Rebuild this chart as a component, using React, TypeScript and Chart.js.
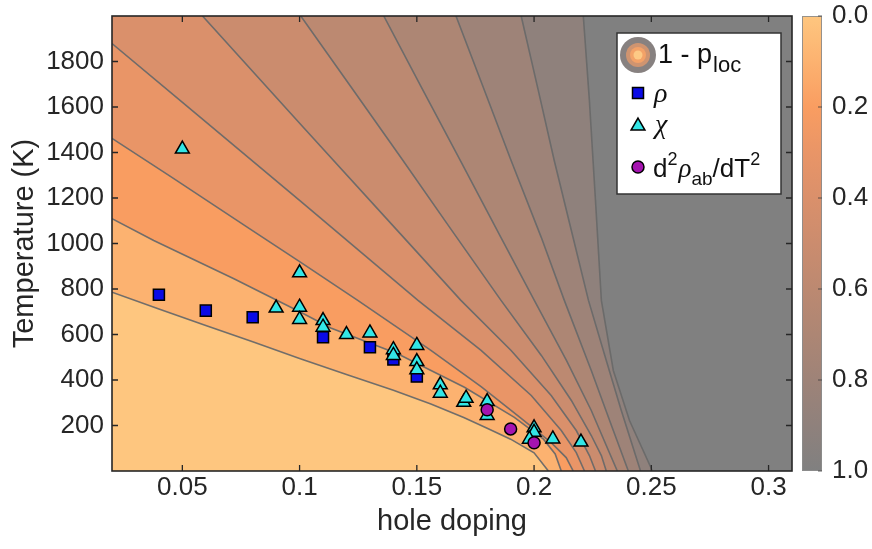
import React, { useEffect, useRef } from 'react';
import { Chart, registerables } from 'chart.js';

Chart.register(...registerables);

const FONT = '"Liberation Sans", Arial, sans-serif';
const TEXT = '#262626';

// axis ranges
const X_MIN = 0.02;
const X_MAX = 0.31;
const T_MIN = 0;
const T_MAX = 2000;

// ticks
const xTicks = [0.05, 0.1, 0.15, 0.2, 0.25, 0.3];
const xTickLabels = ['0.05', '0.1', '0.15', '0.2', '0.25', '0.3'];
const yTicks = [200, 400, 600, 800, 1000, 1200, 1400, 1600, 1800];
const yTickLabels = ['200', '400', '600', '800', '1000', '1200', '1400', '1600', '1800'];
const cbTicks = [0, 0.2, 0.4, 0.6, 0.8, 1.0];
const cbTickLabels = ['0.0', '0.2', '0.4', '0.6', '0.8', '1.0'];

// colormap of 1 - p_loc
const colormapStops = [0, 0.1, 0.2, 0.3, 0.4, 0.5, 0.6, 0.7, 0.8, 0.9, 1.0];
const colormapColors = ['#FEC67F', '#FCB270', '#F99D61', '#E99567', '#DA906B', '#CB8C6E', '#BC8971', '#AD8674', '#9E8378', '#8F817C', '#808080'];

// contour levels and contour lines [hole doping, T]
const contourLevels = [0.1, 0.2, 0.3, 0.4, 0.5, 0.6, 0.7, 0.8, 0.9, 1.0];
const contour01 = [[0.020, 786], [0.040, 712], [0.060, 640], [0.080, 568], [0.100, 495], [0.120, 424], [0.140, 355], [0.156, 295], [0.170, 235], [0.180, 188], [0.190, 140], [0.200, 80], [0.2061, 0]];
const contour02 = [[0.020, 1109], [0.0378, 1013], [0.072, 845], [0.1005, 698], [0.1133, 629], [0.1418, 515], [0.1703, 368], [0.1916, 236], [0.2040, 140], [0.2090, 75], [0.2116, 0]];
const contour03 = [[0.020, 1462], [0.0449, 1295], [0.0791, 1062], [0.1005, 917], [0.1248, 750], [0.156, 530], [0.1774, 371], [0.1945, 231], [0.2073, 125], [0.2137, 59], [0.2167, 0]];
const contour04 = [[0.020, 1879], [0.0577, 1554], [0.1005, 1185], [0.1505, 750], [0.1774, 530], [0.1988, 332], [0.2116, 178], [0.2180, 81], [0.2215, 0]];
const contour05 = [[0.0586, 2000], [0.1005, 1523], [0.1432, 1040], [0.1688, 750], [0.1902, 530], [0.2073, 332], [0.2180, 178], [0.2236, 68], [0.2262, 0]];
const contour06 = [[0.1005, 2000], [0.1218, 1690], [0.1432, 1378], [0.1646, 1062], [0.1859, 750], [0.2031, 508], [0.2159, 310], [0.2244, 156], [0.2287, 68], [0.2308, 0]];
const contour07 = [[0.1359, 2000], [0.1518, 1690], [0.1688, 1360], [0.1859, 1026], [0.2001, 750], [0.2138, 486], [0.2244, 266], [0.2308, 112], [0.2355, 0]];
const contour08 = [[0.1667, 2000], [0.1782, 1690], [0.1902, 1365], [0.2031, 1026], [0.2129, 750], [0.2244, 442], [0.2330, 200], [0.2402, 0]];
const contour09 = [[0.1945, 2000], [0.2018, 1673], [0.2086, 1365], [0.2159, 1057], [0.2232, 750], [0.2308, 486], [0.2372, 266], [0.2454, 0]];
const contour10 = [[0.2210, 2000], [0.2236, 1628], [0.2262, 1188], [0.2287, 750], [0.2338, 442], [0.2407, 222], [0.2505, 0]];
const contours = [contour01, contour02, contour03, contour04, contour05, contour06, contour07, contour08, contour09, contour10];

// measurements
const rhoDoping = [0.04, 0.06, 0.08, 0.11, 0.13, 0.14, 0.15];
const rhoTemp = [775, 705, 676, 588, 544, 490, 415];
const chiDoping = [0.05, 0.09, 0.10, 0.10, 0.10, 0.11, 0.11, 0.12, 0.13, 0.14, 0.14, 0.15, 0.15, 0.15, 0.16, 0.16, 0.17, 0.171, 0.18, 0.18, 0.20, 0.20, 0.198, 0.208, 0.22];
const chiTemp = [1415, 716, 871, 720, 666, 661, 632, 600, 607, 533, 508, 552, 481, 445, 379, 342, 302, 320, 305, 244, 190, 170, 140, 141, 127];
const d2Doping = [0.18, 0.19, 0.20];
const d2Temp = [269, 185, 124];

const RHO_COLOR = '#0A0AE6';
const CHI_COLOR = '#33E6E6';
const D2_COLOR = '#A514B0';

function colorAt(level: number) {
  const i = colormapStops.findIndex((s) => Math.abs(s - level) < 1e-9);
  return colormapColors[i >= 0 ? i : 0];
}

function toXY(line: number[][]) {
  return line.map(([x, y]) => ({ x, y }));
}

// region on the high side of a contour line (right / above)
function bandPolygon(line: number[][] | null) {
  const L = X_MIN - 0.01;
  const L2 = X_MIN - 0.02;
  const R = X_MAX + 0.01;
  const top = T_MAX + 100;
  const bot = T_MIN - 100;
  const pts: { x: number; y: number }[] = [{ x: L, y: top }, { x: L2, y: top }];
  if (!line) {
    pts.push({ x: L2, y: bot });
  } else {
    const first = line[0];
    const last = line[line.length - 1];
    if (first[0] <= X_MIN + 1e-6) pts.push({ x: L2, y: first[1] });
    else pts.push({ x: first[0], y: top });
    pts.push(...toXY(line));
    pts.push({ x: last[0], y: bot });
  }
  pts.push({ x: R, y: bot });
  pts.push({ x: R, y: top });
  return pts;
}

const framePlugin = {
  id: 'frameTicks',
  afterDatasetsDraw(chart: any) {
    const { ctx, chartArea: a, scales } = chart;
    ctx.save();
    ctx.strokeStyle = TEXT;
    ctx.lineWidth = 1.3;
    const len = 6;
    ctx.beginPath();
    xTicks.forEach((v) => {
      const p = scales.x.getPixelForValue(v);
      ctx.moveTo(p, a.bottom);
      ctx.lineTo(p, a.bottom - len);
      ctx.moveTo(p, a.top);
      ctx.lineTo(p, a.top + len);
    });
    yTicks.forEach((v) => {
      const p = scales.y.getPixelForValue(v);
      ctx.moveTo(a.left, p);
      ctx.lineTo(a.left + len, p);
      ctx.moveTo(a.right, p);
      ctx.lineTo(a.right - len, p);
    });
    ctx.stroke();
    ctx.lineWidth = 1.6;
    ctx.strokeRect(a.left, a.top, a.right - a.left, a.bottom - a.top);
    ctx.restore();
  },
};

const colorbarPlugin = {
  id: 'colorbar',
  afterDraw(chart: any) {
    const { ctx, chartArea: a, scales } = chart;
    const cb = scales.cb;
    const x0 = a.right + 10;
    const w = 20;
    const y0 = cb.getPixelForValue(0);
    const y1 = cb.getPixelForValue(1);
    ctx.save();
    const g = ctx.createLinearGradient(0, y0, 0, y1);
    colormapStops.forEach((s, i) => g.addColorStop(s, colormapColors[i]));
    ctx.fillStyle = g;
    ctx.fillRect(x0, y0, w, y1 - y0);
    ctx.strokeStyle = 'rgba(140,140,140,0.9)';
    ctx.lineWidth = 1;
    ctx.strokeRect(x0 + 0.5, y0 + 0.5, w - 1, y1 - y0 - 1);
    ctx.strokeStyle = 'rgba(60,60,60,0.8)';
    ctx.beginPath();
    cbTicks.forEach((v) => {
      const p = cb.getPixelForValue(v);
      ctx.moveTo(x0 + w, p);
      ctx.lineTo(x0 + w - 4, p);
    });
    ctx.stroke();
    ctx.restore();
  },
};

function drawSquare(ctx: CanvasRenderingContext2D, x: number, y: number) {
  ctx.beginPath();
  ctx.rect(x - 5.5, y - 5.5, 11, 11);
  ctx.fillStyle = RHO_COLOR;
  ctx.fill();
  ctx.lineWidth = 1.5;
  ctx.strokeStyle = '#000';
  ctx.stroke();
}
function drawTriangle(ctx: CanvasRenderingContext2D, x: number, y: number) {
  const r = 8;
  ctx.beginPath();
  for (let k = 0; k < 3; k++) {
    const ang = (k * 2 * Math.PI) / 3;
    const px = x + Math.sin(ang) * r;
    const py = y - Math.cos(ang) * r;
    if (k === 0) ctx.moveTo(px, py);
    else ctx.lineTo(px, py);
  }
  ctx.closePath();
  ctx.fillStyle = CHI_COLOR;
  ctx.fill();
  ctx.lineWidth = 1.5;
  ctx.strokeStyle = '#000';
  ctx.stroke();
}
function drawCircle(ctx: CanvasRenderingContext2D, x: number, y: number) {
  ctx.beginPath();
  ctx.arc(x, y, 6, 0, Math.PI * 2);
  ctx.fillStyle = D2_COLOR;
  ctx.fill();
  ctx.lineWidth = 1.5;
  ctx.strokeStyle = '#000';
  ctx.stroke();
}

const legendPlugin = {
  id: 'legendBox',
  afterDraw(chart: any) {
    const { ctx, chartArea: a } = chart;
    const bx = a.right - 175;
    const by = a.top + 17;
    const bw = 164;
    const bh = 161;
    ctx.save();
    ctx.fillStyle = '#fff';
    ctx.fillRect(bx, by, bw, bh);
    ctx.strokeStyle = '#333';
    ctx.lineWidth = 1.5;
    ctx.strokeRect(bx, by, bw, bh);
    const ix = bx + 21;
    // entry 1
    const cy1 = by + 22;
    const rings: [number, string][] = [[18, '#878180'], [12, '#CF9470'], [8, '#F3A268'], [4.5, '#FDC985']];
    rings.forEach(([r, c]) => {
      ctx.beginPath();
      ctx.arc(ix, cy1, r, 0, Math.PI * 2);
      ctx.fillStyle = c;
      ctx.fill();
    });
    ctx.fillStyle = '#111';
    ctx.textAlign = 'left';
    ctx.textBaseline = 'alphabetic';
    ctx.font = `27px ${FONT}`;
    ctx.fillText('1 - p', bx + 41, by + 30);
    let w = ctx.measureText('1 - p').width;
    ctx.font = `22px ${FONT}`;
    ctx.fillText('loc', bx + 41 + w + 1, by + 39);
    // entry 2
    drawSquare(ctx, ix, by + 60);
    ctx.fillStyle = '#111';
    ctx.font = `italic 28px "Liberation Serif", serif`;
    ctx.fillText('ρ', bx + 37, by + 69);
    // entry 3
    drawTriangle(ctx, ix, by + 93);
    ctx.fillStyle = '#111';
    ctx.font = `italic 28px "Liberation Serif", serif`;
    ctx.fillText('χ', bx + 38, by + 100);
    // entry 4
    drawCircle(ctx, ix, by + 134);
    ctx.fillStyle = '#111';
    let x = bx + 36;
    const base = by + 144;
    const run = (t: string, font: string, dy: number) => {
      ctx.font = font;
      ctx.fillText(t, x, base + dy);
      x += ctx.measureText(t).width;
    };
    run('d', `26px ${FONT}`, 0);
    run('2', `18px ${FONT}`, -12);
    x += 1;
    run('ρ', `italic 27px "Liberation Serif", serif`, 0);
    run('ab', `19px ${FONT}`, 8);
    run('/dT', `26px ${FONT}`, 0);
    run('2', `18px ${FONT}`, -12);
    ctx.restore();
  },
};

const noPad = (s: any) => {
  s.paddingTop = 0;
  s.paddingBottom = 0;
  s.paddingLeft = 0;
  s.paddingRight = 0;
};

export default function App() {
  const ref = useRef<HTMLCanvasElement>(null);
  useEffect(() => {
    const canvas = ref.current;
    if (!canvas) return;
    const datasets: any[] = [];
    datasets.push({
      data: bandPolygon(null),
      showLine: true,
      fill: 'shape',
      backgroundColor: colorAt(0),
      borderColor: 'rgba(0,0,0,0)',
      borderWidth: 0,
      pointRadius: 0,
      order: 1000,
    });
    contours.forEach((c, i) => {
      datasets.push({
        data: bandPolygon(c),
        showLine: true,
        fill: 'shape',
        backgroundColor: colorAt(contourLevels[i]),
        borderColor: 'rgba(0,0,0,0)',
        borderWidth: 0,
        pointRadius: 0,
        order: 999 - i,
      });
    });
    contours.forEach((c) => {
      datasets.push({
        data: toXY(c),
        showLine: true,
        fill: false,
        borderColor: 'rgba(105,105,105,0.95)',
        borderWidth: 1.6,
        pointRadius: 0,
        order: 500,
      });
    });
    datasets.push({
      label: 'rho',
      data: rhoDoping.map((x, i) => ({ x, y: rhoTemp[i] })),
      showLine: false,
      pointStyle: 'rect',
      pointRadius: 7.8,
      backgroundColor: RHO_COLOR,
      borderColor: '#000',
      pointBorderWidth: 1.5,
      order: 3,
    });
    datasets.push({
      label: 'chi',
      data: chiDoping.map((x, i) => ({ x, y: chiTemp[i] })),
      showLine: false,
      pointStyle: 'triangle',
      pointRadius: 8,
      backgroundColor: CHI_COLOR,
      borderColor: '#000',
      pointBorderWidth: 1.5,
      order: 2,
    });
    datasets.push({
      label: 'd2rho',
      data: d2Doping.map((x, i) => ({ x, y: d2Temp[i] })),
      showLine: false,
      pointStyle: 'circle',
      pointRadius: 6,
      backgroundColor: D2_COLOR,
      borderColor: '#000',
      pointBorderWidth: 1.5,
      order: 1,
    });

    const chart = new Chart(canvas, {
      type: 'line',
      data: { datasets },
      options: {
        animation: false,
        responsive: false,
        devicePixelRatio: 1,
        events: [],
        layout: { padding: { top: 16, left: 0, right: 0, bottom: 0 } },
        elements: { line: { tension: 0 } },
        plugins: { legend: { display: false }, tooltip: { enabled: false } },
        scales: {
          x: {
            type: 'linear',
            position: 'bottom',
            min: X_MIN,
            max: X_MAX,
            afterBuildTicks: (s: any) => {
              s.ticks = xTicks.map((v) => ({ value: v }));
            },
            afterFit: (s: any) => {
              s.height = 78;
              noPad(s);
            },
            grid: { display: false, drawTicks: false },
            border: { display: false },
            ticks: {
              autoSkip: false,
              maxRotation: 0,
              padding: 4,
              color: TEXT,
              font: { family: FONT, size: 26, lineHeight: 1 },
              callback: (_v: any, i: number) => xTickLabels[i],
            },
            title: {
              display: true,
              text: 'hole doping',
              color: TEXT,
              font: { family: FONT, size: 29, lineHeight: 1 },
              padding: { top: 0, bottom: 13 },
            },
          },
          y: {
            type: 'linear',
            position: 'left',
            min: T_MIN,
            max: T_MAX,
            afterBuildTicks: (s: any) => {
              s.ticks = yTicks.map((v) => ({ value: v }));
            },
            afterFit: (s: any) => {
              s.width = 112;
              noPad(s);
            },
            grid: { display: false, drawTicks: false },
            border: { display: false },
            ticks: {
              padding: 8,
              color: TEXT,
              font: { family: FONT, size: 26, lineHeight: 1 },
              callback: (_v: any, i: number) => yTickLabels[i],
            },
            title: {
              display: true,
              text: 'Temperature (K)',
              color: TEXT,
              font: { family: FONT, size: 29, lineHeight: 1 },
              padding: { top: 10, bottom: 0 },
            },
          },
          cb: {
            type: 'linear',
            position: 'right',
            min: 0,
            max: 1,
            reverse: true,
            afterBuildTicks: (s: any) => {
              s.ticks = cbTicks.map((v) => ({ value: v }));
            },
            afterFit: (s: any) => {
              s.width = 80;
              noPad(s);
            },
            grid: { display: false, drawTicks: false },
            border: { display: false },
            ticks: {
              padding: 40,
              color: TEXT,
              font: { family: FONT, size: 26, lineHeight: 1 },
              callback: (_v: any, i: number) => cbTickLabels[i],
            },
          },
        },
      } as any,
      plugins: [framePlugin, colorbarPlugin, legendPlugin],
    });
    return () => chart.destroy();
  }, []);
  return (
    <div style={{ position: 'fixed', left: 0, top: 0, width: 872, height: 549, background: '#fff' }}>
      <canvas ref={ref} width={872} height={549} style={{ display: 'block' }} />
    </div>
  );
}
